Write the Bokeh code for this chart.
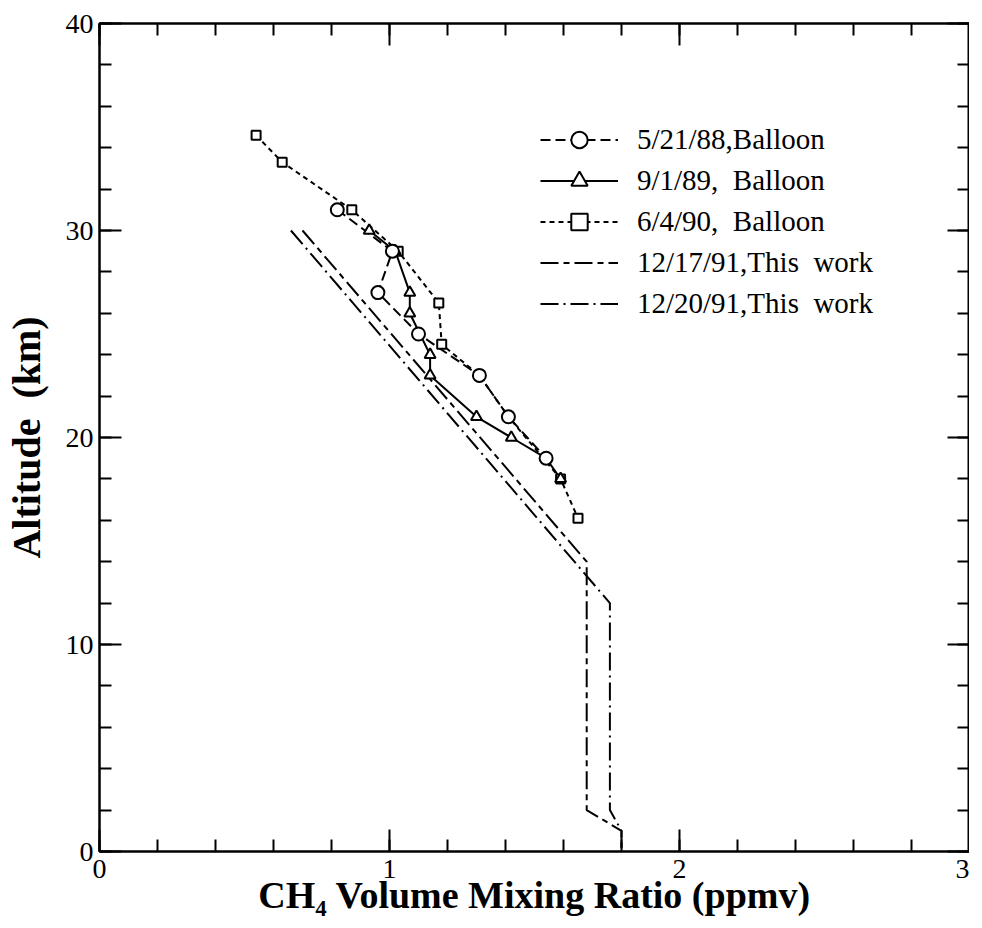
from bokeh.plotting import figure
from bokeh.models import (LinearAxis, SingleIntervalTicker, Range1d, Legend,
                          LegendItem, CustomJSTickFormatter)
from bokeh.embed import file_html
from bokeh.resources import INLINE

# ---- data ----
s1_label = "5/21/88,Balloon"
s1_x = [0.82, 1.01, 0.96, 1.10, 1.31, 1.41, 1.54]
s1_y = [31.0, 29.0, 27.0, 25.0, 23.0, 21.0, 19.0]

s2_label = "9/1/89,\u00a0\u00a0Balloon"
s2_x = [0.93, 1.02, 1.07, 1.07, 1.14, 1.14, 1.30, 1.42, 1.54, 1.59]
s2_y = [30.0, 29.0, 27.0, 26.0, 24.0, 23.0, 21.0, 20.0, 19.0, 18.0]

s3_label = "6/4/90,\u00a0\u00a0Balloon"
s3_x = [0.54, 0.63, 0.87, 1.03, 1.17, 1.18, 1.31, 1.41, 1.59, 1.65]
s3_y = [34.6, 33.3, 31.0, 29.0, 26.5, 24.5, 23.0, 21.0, 18.0, 16.1]

s4_label = "12/17/91,This\u00a0\u00a0work"
s4_x = [0.70, 1.68, 1.68, 1.80, 1.80]
s4_y = [30.0, 14.0, 2.0, 1.0, 0.0]

s5_label = "12/20/91,This\u00a0\u00a0work"
s5_x = [0.66, 1.76, 1.76, 1.80, 1.80]
s5_y = [30.0, 12.0, 2.0, 1.0, 0.0]

x_label = "CH\u2084 Volume Mixing Ratio (ppmv)"
y_label = "Altitude\u00a0 (km)"

FONT = "Liberation Serif"

p = figure(frame_width=870, frame_height=828, output_backend="svg",
           toolbar_location=None,
           x_range=Range1d(0, 3), y_range=Range1d(0, 40),
           min_border_left=94, min_border_right=0, min_border_top=23,
           min_border_bottom=0)
p.xgrid.visible = False
p.ygrid.visible = False
p.outline_line_color = "black"
p.outline_line_width = 2
p.background_fill_color = "white"
p.border_fill_color = "white"

bottom = p.below[0]
left = p.left[0]
bottom.ticker = SingleIntervalTicker(interval=1, num_minor_ticks=5)
left.ticker = SingleIntervalTicker(interval=10, num_minor_ticks=5)

top = LinearAxis(ticker=SingleIntervalTicker(interval=1, num_minor_ticks=5),
                 formatter=CustomJSTickFormatter(code="return ''"))
right = LinearAxis(ticker=SingleIntervalTicker(interval=10, num_minor_ticks=5),
                   formatter=CustomJSTickFormatter(code="return ''"))
p.add_layout(top, "above")
p.add_layout(right, "right")

for ax in [bottom, left, top, right]:
    ax.major_tick_in = 22
    ax.major_tick_out = 0
    ax.minor_tick_in = 12
    ax.minor_tick_out = 0
    ax.axis_line_width = 2
    ax.axis_line_color = "black"
    ax.major_tick_line_width = 2
    ax.minor_tick_line_width = 2
    ax.major_tick_line_color = "black"
    ax.minor_tick_line_color = "black"
    ax.major_label_text_font = FONT
    ax.major_label_text_font_size = "28px"
    ax.major_label_text_color = "black"

for ax in [top, right]:
    ax.major_label_standoff = 0
    ax.major_label_text_font_size = "1px"

bottom.axis_label = x_label
left.axis_label = y_label
for ax in [bottom, left]:
    ax.axis_label_text_font = FONT
    ax.axis_label_text_font_style = "bold"
    ax.axis_label_text_color = "black"
bottom.axis_label_text_font_size = "38px"
left.axis_label_text_font_size = "40px"
bottom.major_label_standoff = 8
bottom.axis_label_standoff = -7
left.major_label_standoff = 6
left.axis_label_standoff = 14

LW = 2
# lines
r5 = p.line(s5_x, s5_y, line_color="black", line_width=LW, line_dash="18 5 2 5")
r4 = p.line(s4_x, s4_y, line_color="black", line_width=LW, line_dash="18 5 6 5")
r3l = p.line(s3_x, s3_y, line_color="black", line_width=LW, line_dash="5 4")
r2l = p.line(s2_x, s2_y, line_color="black", line_width=LW)
r1l = p.line(s1_x, s1_y, line_color="black", line_width=LW, line_dash="10 5")
# markers
r3m = p.scatter(s3_x, s3_y, marker="square", size=9, fill_color="white",
                line_color="black", line_width=LW)
r2m = p.scatter(s2_x, s2_y, marker="triangle", size=11, fill_color="white",
                line_color="black", line_width=LW)
r1m = p.scatter(s1_x, s1_y, marker="circle", size=13, fill_color="white",
                line_color="black", line_width=LW)

# smaller marker samples for the legend only (not drawn in the plot area)
nan = float("nan")
k1 = p.scatter([nan], [nan], marker="circle", size=8, fill_color="white",
               line_color="black", line_width=LW)
k2 = p.scatter([nan], [nan], marker="triangle", size=8, fill_color="white",
               line_color="black", line_width=LW)
k3 = p.scatter([nan], [nan], marker="square", size=7, fill_color="white",
               line_color="black", line_width=LW)

legend = Legend(items=[
    LegendItem(label=s1_label, renderers=[r1l, k1]),
    LegendItem(label=s2_label, renderers=[r2l, k2]),
    LegendItem(label=s3_label, renderers=[r3l, k3]),
    LegendItem(label=s4_label, renderers=[r4]),
    LegendItem(label=s5_label, renderers=[r5]),
], location=(441, 527))
legend.border_line_color = None
legend.background_fill_alpha = 0
legend.padding = 0
legend.margin = 0
legend.spacing = 0
legend.glyph_width = 78
legend.glyph_height = 41
legend.label_height = 41
legend.label_standoff = 19
legend.label_text_font = FONT
legend.label_text_font_size = "29px"
legend.label_text_color = "black"
p.add_layout(legend)

open("out.html", "w").write(file_html(p, INLINE))
